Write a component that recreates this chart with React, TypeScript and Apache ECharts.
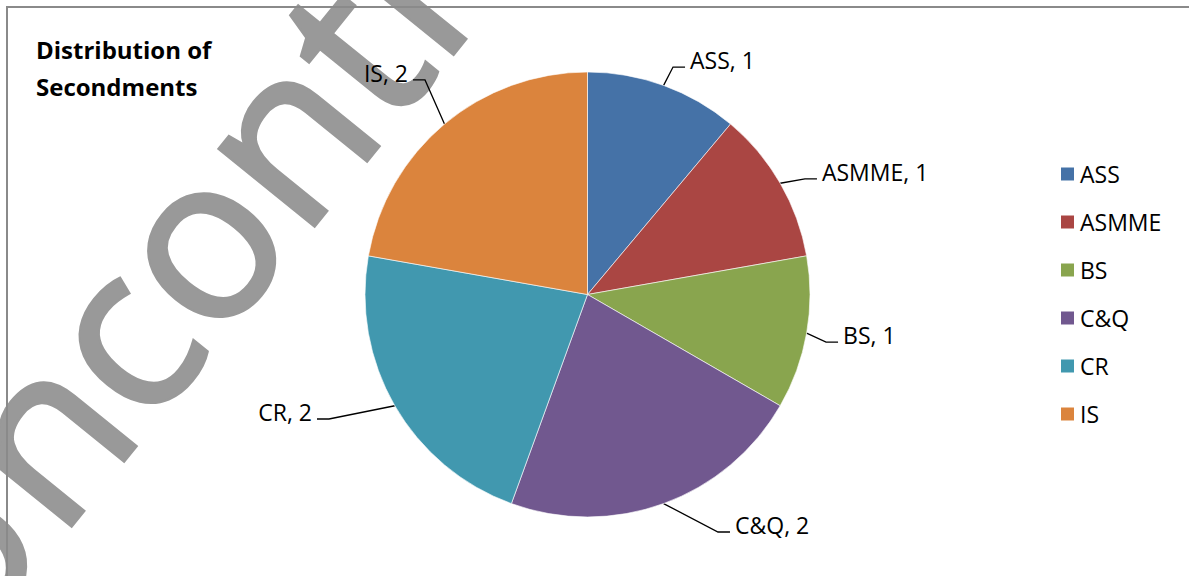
import React, { useEffect, useRef } from "react";
import * as echarts from "echarts";

const categories = ["ASS", "ASMME", "BS", "C&Q", "CR", "IS"];
const values = [1, 1, 1, 2, 2, 2];
const colors = ["#4572A7", "#AA4643", "#89A54E", "#71588F", "#4198AF", "#DB843D"];
const titleText = "Distribution of\nSecondments";
const watermarkText = "Uncontrolled";

// label line lengths per slice (style only)
const lineLen = [27, 22.6, 11, 22.8, 12.5, 66.7];
const lineLen2 = [12.2, 17.2, 20.6, 58.6, 67, -11.4];

const FONT = "'Open Sans', 'Noto Sans', sans-serif";

export default function App() {
  const ref = useRef<HTMLDivElement>(null);
  useEffect(() => {
    if (!ref.current) return;
    const chart = echarts.init(ref.current, undefined, { renderer: "svg" });
    const data = categories.map((name, i) => ({
      name,
      value: values[i],
      itemStyle: { color: colors[i] },
      labelLine: { length: lineLen[i], length2: lineLen2[i] },
    }));
    chart.setOption({
      animation: false,
      backgroundColor: "#ffffff",
      title: {
        text: titleText,
        left: 36,
        top: 31,
        padding: 0,
        textStyle: {
          fontFamily: FONT,
          fontSize: 24,
          fontWeight: "bold",
          lineHeight: 37,
          color: "#000",
        },
      },
      legend: {
        orient: "vertical",
        left: 1059,
        top: 162,
        padding: 0,
        itemWidth: 15,
        itemHeight: 15,
        itemGap: 24,
        icon: "rect",
        data: categories,
        textStyle: { fontFamily: FONT, fontSize: 23, lineHeight: 24, color: "#000" },
      },
      graphic: [
        {
          type: "text",
          x: -114,
          y: 614,
          rotation: (51 * Math.PI) / 180,
          z: 0,
          silent: true,
          style: {
            text: watermarkText,
            fontSize: 228,
            fontFamily: FONT,
            fill: "#999999",
            stroke: "#999999",
            lineWidth: 4,
            align: "left",
            verticalAlign: "middle",
            textAlign: "left",
            textVerticalAlign: "middle",
          },
        },
        {
          type: "rect",
          z: 100,
          silent: true,
          shape: { x: 7, y: 7, width: 1300, height: 700 },
          style: { fill: "none", stroke: "#8a8a8a", lineWidth: 2 },
        },
      ],
      series: [
        {
          type: "pie",
          center: [587.5, 294.5],
          radius: 222.5,
          startAngle: 90,
          clockwise: true,
          avoidLabelOverlap: false,
          data,
          itemStyle: { borderColor: "#ffffff", borderWidth: 0.6 },
          label: {
            show: true,
            position: "outside",
            formatter: "{b}, {c}",
            fontFamily: FONT,
            fontSize: 23,
            color: "#000",
            distanceToLabelLine: 5,
          },
          labelLine: {
            show: true,
            lineStyle: { color: "#000", width: 1.3 },
          },
          labelLayout: (params: any) => {
            const pts = params.labelLinePoints;
            const r = params.labelRect;
            if (!pts || pts.length < 3 || !r) return {};
            const p0 = pts[0];
            const p2 = pts[pts.length - 1];
            const sign = p2[0] >= p0[0] ? 1 : -1;
            const endX = sign > 0 ? r.x - 5 : r.x + r.width + 5;
            const endY = r.y + r.height / 2 + 7;
            return {
              labelLinePoints: [p0, [endX - sign * 12, endY], [endX, endY]],
            };
          },
          emphasis: { disabled: true },
        },
      ],
    });
    return () => chart.dispose();
  }, []);
  return (
    <div
      ref={ref}
      style={{ position: "absolute", left: 0, top: 0, width: 1189, height: 576 }}
    />
  );
}
